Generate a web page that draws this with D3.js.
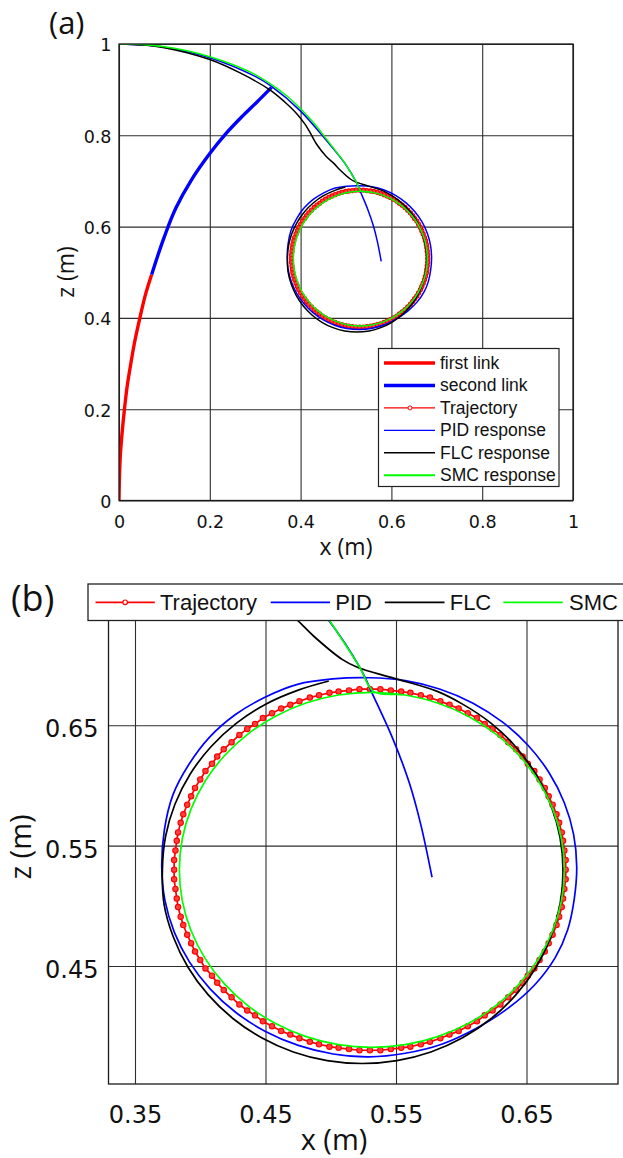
<!DOCTYPE html>
<html><head><meta charset="utf-8">
<script src="https://cdn.jsdelivr.net/npm/d3@7"></script>
<style>
html,body{margin:0;padding:0;background:#fff;}
svg{display:block;}
</style></head><body>
<svg id="c" width="623" height="1158"></svg>
<script>
// ---------- data (x, z in metres) ----------
const xTicksA = [0, 0.2, 0.4, 0.6, 0.8, 1];
const zTicksA = [0, 0.2, 0.4, 0.6, 0.8, 1];
const xTicksB = [0.35, 0.45, 0.55, 0.65];
const zTicksB = [0.45, 0.55, 0.65];

const legendA = ["first link", "second link", "Trajectory", "PID response", "FLC response", "SMC response"];
const legendB = ["Trajectory", "PID", "FLC", "SMC"];

const firstLink = [[0.000,0.000],[0.001,0.050],[0.003,0.100],[0.007,0.150],[0.012,0.200],[0.018,0.250],[0.026,0.300],[0.035,0.350],[0.046,0.400],[0.058,0.450],[0.072,0.495]];
const secondLink = [[0.072,0.495],[0.085,0.535],[0.100,0.578],[0.125,0.640],[0.160,0.703],[0.200,0.760],[0.235,0.803],[0.270,0.840],[0.303,0.872],[0.336,0.905]];

const trajectory = [
[0.680,0.530],[0.680,0.538],[0.679,0.546],[0.678,0.554],[0.677,0.561],[0.675,0.569],[0.673,0.576],[0.670,0.584],[0.667,0.591],[0.664,0.598],
[0.660,0.605],[0.656,0.612],[0.651,0.618],[0.647,0.624],[0.642,0.630],[0.636,0.636],[0.630,0.642],[0.624,0.647],[0.618,0.651],[0.612,0.656],
[0.605,0.660],[0.598,0.664],[0.591,0.667],[0.584,0.670],[0.576,0.673],[0.569,0.675],[0.561,0.677],[0.554,0.678],[0.546,0.679],[0.538,0.680],
[0.530,0.680],[0.522,0.680],[0.514,0.679],[0.506,0.678],[0.499,0.677],[0.491,0.675],[0.484,0.673],[0.476,0.670],[0.469,0.667],[0.462,0.664],
[0.455,0.660],[0.448,0.656],[0.442,0.651],[0.436,0.647],[0.430,0.642],[0.424,0.636],[0.418,0.630],[0.413,0.624],[0.409,0.618],[0.404,0.612],
[0.400,0.605],[0.396,0.598],[0.393,0.591],[0.390,0.584],[0.387,0.576],[0.385,0.569],[0.383,0.561],[0.382,0.554],[0.381,0.546],[0.380,0.538],
[0.380,0.530],[0.380,0.522],[0.381,0.514],[0.382,0.506],[0.383,0.499],[0.385,0.491],[0.387,0.484],[0.390,0.476],[0.393,0.469],[0.396,0.462],
[0.400,0.455],[0.404,0.448],[0.409,0.442],[0.413,0.436],[0.418,0.430],[0.424,0.424],[0.430,0.418],[0.436,0.413],[0.442,0.409],[0.448,0.404],
[0.455,0.400],[0.462,0.396],[0.469,0.393],[0.476,0.390],[0.484,0.387],[0.491,0.385],[0.499,0.383],[0.506,0.382],[0.514,0.381],[0.522,0.380],
[0.530,0.380],[0.538,0.380],[0.546,0.381],[0.554,0.382],[0.561,0.383],[0.569,0.385],[0.576,0.387],[0.584,0.390],[0.591,0.393],[0.598,0.396],
[0.605,0.400],[0.612,0.404],[0.618,0.409],[0.624,0.413],[0.630,0.418],[0.636,0.424],[0.642,0.430],[0.647,0.436],[0.651,0.442],[0.656,0.448],
[0.660,0.455],[0.664,0.462],[0.667,0.469],[0.670,0.476],[0.673,0.484],[0.675,0.491],[0.677,0.499],[0.678,0.506],[0.679,0.514],[0.680,0.522]];

const pidApproach = [[0.000,1.000],[0.050,0.998],[0.100,0.993],[0.200,0.970],[0.300,0.929],[0.336,0.907],[0.400,0.853],[0.4575,0.788],[0.4965,0.740],[0.5223,0.698],[0.533,0.6736],[0.548,0.6377],[0.5603,0.6018],[0.569,0.5675],[0.5776,0.5238]];
const pidLoop = [
[0.6885,0.532],[0.6861,0.5593],[0.6789,0.5859],[0.6672,0.6108],[0.6513,0.6332],[0.6317,0.6526],[0.6090,0.6684],[0.5839,0.6800],[0.5571,0.6871],
[0.5295,0.6895],[0.5015,0.6885],[0.4745,0.6840],[0.4500,0.6735],[0.4270,0.6590],[0.4070,0.6400],[0.3910,0.6170],[0.3790,0.5920],[0.3725,0.5630],
[0.3705,0.5320],[0.3729,0.5047],[0.3801,0.4781],[0.3918,0.4532],[0.4077,0.4308],[0.4273,0.4114],[0.4500,0.3956],[0.4751,0.3840],[0.5019,0.3769],
[0.5295,0.3745],[0.5571,0.3775],[0.5850,0.3850],[0.6120,0.3985],[0.6360,0.4150],[0.6560,0.4340],[0.6720,0.4570],[0.6815,0.4800],[0.6865,0.5050]];

const flcPath = [[0.000,1.000],[0.050,0.998],[0.100,0.992],[0.200,0.966],[0.270,0.935],[0.333,0.899],[0.365,0.873],[0.391,0.848],[0.410,0.824],
[0.421,0.806],[0.435,0.781],[0.457,0.753],[0.4737,0.738],[0.487,0.724],[0.5087,0.7048],[0.5208,0.698],[0.5482,0.6892],[0.5816,0.6782],
[0.601,0.6676],[0.623,0.6516],[0.642,0.6318],[0.6574,0.609],[0.6687,0.5837],[0.6757,0.5568],[0.678,0.529],[0.6757,0.5012],[0.6687,0.4743],
[0.6574,0.449],[0.642,0.4262],[0.623,0.4064],[0.601,0.3904],[0.5767,0.3786],[0.5507,0.3714],[0.524,0.369],[0.4973,0.3714],[0.4713,0.3786],
[0.447,0.3904],[0.425,0.4064],[0.406,0.4262],[0.3906,0.449],[0.3793,0.4743],[0.3723,0.5012],[0.371,0.530],[0.3734,0.5576],[0.3806,0.5844],
[0.3923,0.6095],[0.4082,0.6322],[0.4278,0.6518],[0.4505,0.6677],[0.4756,0.6794],[0.4985,0.6868]];

const smcPath = [[0.000,1.000],[0.050,0.999],[0.100,0.994],[0.150,0.985],[0.200,0.972],[0.250,0.955],[0.300,0.933],[0.336,0.911],[0.370,0.886],
[0.400,0.858],[0.430,0.826],[0.4575,0.791],[0.480,0.762],[0.497,0.740],[0.510,0.719],[0.5223,0.698],[0.533,0.678],
[0.5571,0.6752],[0.5819,0.6685],[0.6053,0.6576],[0.6263,0.6429],[0.6445,0.6247],[0.6592,0.6037],[0.6701,0.5803],[0.6768,0.5555],[0.679,0.5299],
[0.6768,0.5043],[0.6701,0.4795],[0.6592,0.4561],[0.6445,0.4351],[0.6263,0.4169],[0.6053,0.4022],[0.5819,0.3913],[0.5571,0.3846],[0.5315,0.3824],
[0.5059,0.3846],[0.4811,0.3913],[0.4577,0.4022],[0.4367,0.4169],[0.4185,0.4351],[0.4038,0.4561],[0.3929,0.4795],[0.3862,0.5043],[0.384,0.5299],
[0.3862,0.5555],[0.3929,0.5803],[0.4038,0.6037],[0.4185,0.6247],[0.4367,0.6429],[0.4577,0.6576],[0.4811,0.6685],[0.5059,0.6752],[0.5315,0.6774],[0.5571,0.6752]];

// ---------- drawing ----------
const RED = "#ff0000", BLUE = "#0000ff", GREEN = "#00ff00", BLACK = "#000000";
const svg = d3.select("#c");
const TICKFONT = "DejaVu Sans, sans-serif";
const LABFONT = "Open Sans, sans-serif";
const LEGFONT = "Liberation Sans, Arial, sans-serif";

function drawPanel(cfg) {
  const { xs, zs, box, xt, zt, clipId } = cfg;
  const g = svg.append("g");
  // grid via d3 axes
  g.append("g").attr("transform", `translate(0,${box.y1})`)
    .call(d3.axisBottom(xs).tickValues(xt).tickSize(-(box.y1 - box.y0)).tickFormat(""))
    .call(a => a.select(".domain").remove())
    .call(a => a.selectAll("line").attr("stroke", "#2e2e2e").attr("stroke-width", 1.1));
  g.append("g").attr("transform", `translate(${box.x0},0)`)
    .call(d3.axisLeft(zs).tickValues(zt).tickSize(-(box.x1 - box.x0)).tickFormat(""))
    .call(a => a.select(".domain").remove())
    .call(a => a.selectAll("line").attr("stroke", "#2e2e2e").attr("stroke-width", 1.1));
  // tick labels via d3 axes
  g.append("g").attr("transform", `translate(0,${box.y1})`)
    .call(d3.axisBottom(xs).tickValues(xt).tickSize(0).tickFormat(d => String(d)))
    .call(a => a.select(".domain").remove())
    .call(a => a.selectAll("text").attr("y", cfg.xLabDy).attr("dy", null)
      .attr("font-family", TICKFONT).attr("font-size", cfg.tickFs).attr("fill", "#111"));
  g.append("g").attr("transform", `translate(${cfg.zLabX},0)`)
    .call(d3.axisLeft(zs).tickValues(zt).tickSize(0).tickPadding(0).tickFormat(d => String(d)))
    .call(a => a.select(".domain").remove())
    .call(a => a.selectAll("text").attr("x", 0).attr("dy", cfg.zLabDy)
      .attr("font-family", TICKFONT).attr("font-size", cfg.tickFs).attr("fill", "#111"));

  const defs = svg.append("defs");
  defs.append("clipPath").attr("id", clipId).append("rect")
    .attr("x", box.x0).attr("y", box.y0).attr("width", box.x1 - box.x0).attr("height", box.y1 - box.y0);
  const p = g.append("g").attr("clip-path", `url(#${clipId})`);
  const line = d3.line().x(d => xs(d[0])).y(d => zs(d[1])).curve(d3.curveCatmullRom.alpha(0.5));
  const lineC = d3.line().x(d => xs(d[0])).y(d => zs(d[1])).curve(d3.curveCatmullRomClosed.alpha(0.5));
  const lineT = d3.line().x(d => xs(d[0])).y(d => zs(d[1])).curve(d3.curveLinearClosed);

  if (cfg.links) {
    p.append("path").attr("d", line(firstLink)).attr("fill", "none").attr("stroke", RED).attr("stroke-width", 3.4);
    p.append("path").attr("d", line(secondLink)).attr("fill", "none").attr("stroke", BLUE).attr("stroke-width", 3.4);
  }
  // trajectory
  p.append("path").attr("d", lineT(trajectory)).attr("fill", "none").attr("stroke", RED).attr("stroke-width", cfg.lw);
  p.append("g").selectAll("circle").data(trajectory).join("circle")
    .attr("cx", d => xs(d[0])).attr("cy", d => zs(d[1])).attr("r", cfg.mr)
    .attr("fill", "#ff4040").attr("stroke", RED).attr("stroke-width", 1.1);
  // PID
  p.append("path").attr("d", line(pidApproach)).attr("fill", "none").attr("stroke", BLUE).attr("stroke-width", cfg.lw);
  p.append("path").attr("d", lineC(pidLoop)).attr("fill", "none").attr("stroke", BLUE).attr("stroke-width", cfg.lw);
  // FLC
  p.append("path").attr("d", line(flcPath)).attr("fill", "none").attr("stroke", BLACK).attr("stroke-width", cfg.lw);
  // SMC
  p.append("path").attr("d", line(smcPath)).attr("fill", "none").attr("stroke", GREEN).attr("stroke-width", cfg.lw);

  // box
  g.append("rect").attr("x", box.x0).attr("y", box.y0).attr("width", box.x1 - box.x0).attr("height", box.y1 - box.y0)
    .attr("fill", "none").attr("stroke", "#1a1a1a").attr("stroke-width", 1.3);
  return g;
}

// ----- panel (a) -----
const xa = d3.scaleLinear().domain([0, 1]).range([119, 573]);
const za = d3.scaleLinear().domain([0, 1]).range([500.5, 44]);
drawPanel({ xs: xa, zs: za, box: { x0: 119, x1: 573, y0: 44, y1: 500.5 }, xt: xTicksA, zt: zTicksA,
  clipId: "clipA", tickFs: 17.5, xLabDy: 27.5, zLabX: 111.5, zLabDy: 6.8, lw: 1.5, mr: 2.1, links: true });

svg.append("text").attr("x", 49).attr("y", 34).attr("font-family", LABFONT).attr("font-size", 31).attr("fill", "#111").text("(a)");
svg.append("text").attr("x", 346).attr("y", 555).attr("text-anchor", "middle").attr("font-family", LABFONT).attr("font-size", 23).attr("fill", "#111").text("x (m)");
svg.append("text").attr("transform", "translate(74,272) rotate(-90)").attr("text-anchor", "middle").attr("font-family", LABFONT).attr("font-size", 23).attr("fill", "#111").text("z (m)");

// legend (a)
{
  const lg = svg.append("g");
  lg.append("rect").attr("x", 378.5).attr("y", 348.5).attr("width", 180.5).attr("height", 138).attr("fill", "#fff").attr("stroke", "#222").attr("stroke-width", 1.2);
  const styles = [
    { c: RED, w: 3.4, m: false }, { c: BLUE, w: 3.4, m: false }, { c: RED, w: 1.4, m: true },
    { c: BLUE, w: 1.4, m: false }, { c: BLACK, w: 1.4, m: false }, { c: GREEN, w: 1.8, m: false }];
  legendA.forEach((t, i) => {
    const y = 363 + i * 22.45;
    lg.append("line").attr("x1", 384).attr("x2", 435).attr("y1", y).attr("y2", y).attr("stroke", styles[i].c).attr("stroke-width", styles[i].w);
    if (styles[i].m) lg.append("circle").attr("cx", 410).attr("cy", y).attr("r", 2).attr("fill", "#fff").attr("stroke", RED).attr("stroke-width", 1);
    lg.append("text").attr("x", 440).attr("y", y + 5.8).attr("font-family", LEGFONT).attr("font-size", 17.5).attr("fill", "#111").text(t);
  });
}

// ----- panel (b) -----
const xb = d3.scaleLinear().domain([0.35, 0.65]).range([135, 526.5]);
const zb = d3.scaleLinear().domain([0.45, 0.65]).range([966, 725.3]);
drawPanel({ xs: xb, zs: zb, box: { x0: 108.5, x1: 618, y0: 619, y1: 1084 }, xt: xTicksB, zt: zTicksB,
  clipId: "clipB", tickFs: 24, xLabDy: 38.5, zLabX: 98.5, zLabDy: 11.5, lw: 1.7, mr: 2.7, links: false });

svg.append("text").attr("x", 11).attr("y", 611).attr("font-family", LABFONT).attr("font-size", 36).attr("fill", "#111").text("(b)");
svg.append("text").attr("x", 334).attr("y", 1150).attr("text-anchor", "middle").attr("font-family", LABFONT).attr("font-size", 29).attr("fill", "#111").text("x (m)");
svg.append("text").attr("transform", "translate(31,847) rotate(-90)").attr("text-anchor", "middle").attr("font-family", LABFONT).attr("font-size", 29).attr("fill", "#111").text("z (m)");

// legend (b)
{
  const lg = svg.append("g");
  lg.append("rect").attr("x", 88).attr("y", 584).attr("width", 540).attr("height", 36.5).attr("fill", "#fff").attr("stroke", "#222").attr("stroke-width", 1.3);
  const items = [
    { c: RED, x1: 95.5, x2: 154.8, tx: 160, m: true },
    { c: BLUE, x1: 270.7, x2: 330, tx: 335.2, m: false },
    { c: BLACK, x1: 384.8, x2: 444.5, tx: 449.7, m: false },
    { c: GREEN, x1: 503.4, x2: 562.8, tx: 569, m: false }];
  legendB.forEach((t, i) => {
    const it = items[i], y = 602.3;
    lg.append("line").attr("x1", it.x1).attr("x2", it.x2).attr("y1", y).attr("y2", y).attr("stroke", it.c).attr("stroke-width", 1.7);
    if (it.m) lg.append("circle").attr("cx", (it.x1 + it.x2) / 2).attr("cy", y).attr("r", 2.3).attr("fill", "#fff").attr("stroke", RED).attr("stroke-width", 1.2);
    lg.append("text").attr("x", it.tx).attr("y", 609.8).attr("font-family", LEGFONT).attr("font-size", 22).attr("fill", "#111").text(t);
  });
}
</script></body></html>
